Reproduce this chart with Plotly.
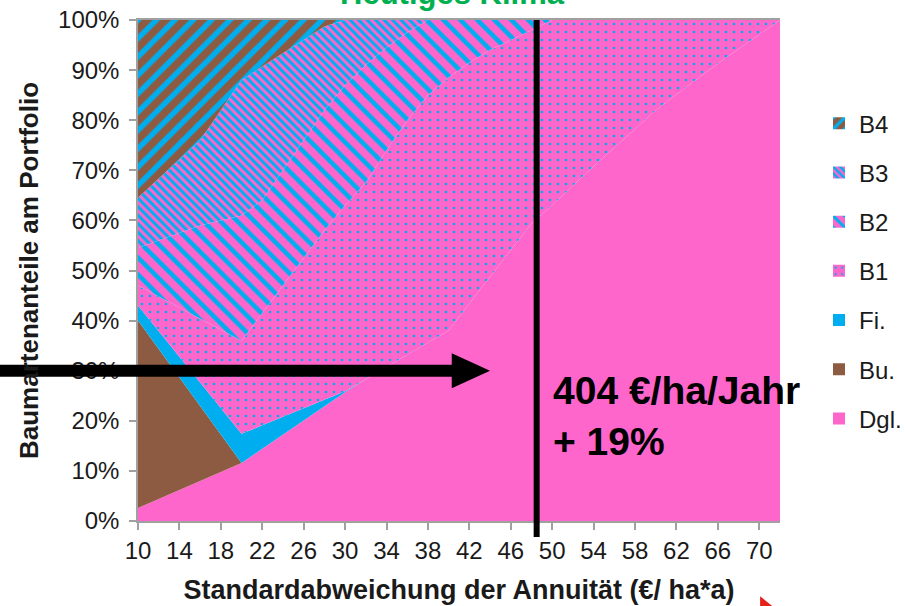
import plotly.graph_objects as go

# Standard deviation of the annuity (EUR / ha*a), one point every 2 units
std_dev = list(range(10, 73, 2))

# Share of each tree species type in the portfolio (%), bottom to top of the stack
dgl = [2.6, 4.4, 6.2, 8.0, 9.8, 11.6, 14.4, 17.2, 20.0, 22.9, 25.7, 28.3, 30.7, 33.2,
       35.6, 38.0, 43.4, 48.8, 54.2, 59.4, 63.0, 67.0, 70.8, 74.5, 78.2, 82.0, 85.2,
       88.3, 91.3, 94.2, 97.1, 100.0]
bu = [37.4, 29.9, 22.4, 15.0, 7.5, 0, 0, 0, 0, 0, 0, 0, 0, 0, 0, 0,
      0, 0, 0, 0, 0, 0, 0, 0, 0, 0, 0, 0, 0, 0, 0, 0]
fi = [3.0, 3.6, 4.2, 4.6, 5.2, 5.8, 4.7, 3.6, 2.5, 1.3, 0.2, 0, 0, 0, 0, 0,
      0, 0, 0, 0, 0, 0, 0, 0, 0, 0, 0, 0, 0, 0, 0, 0]
b1 = [4.0, 6.9, 9.8, 12.8, 15.7, 18.6, 22.4, 26.2, 30.0, 33.8, 37.1, 39.2, 43.3, 46.8,
      49.4, 50.5, 48.1, 45.2, 41.8, 38.6, 37.0, 33.0, 29.2, 25.5, 21.8, 18.0, 14.8,
      11.7, 8.7, 5.8, 2.9, 0]
b2 = [7.5, 11.2, 14.9, 18.6, 21.8, 25.0, 22.5, 23.0, 23.5, 24.0, 24.0, 23.5, 20.5, 17.5,
      15.0, 11.5, 8.5, 6.0, 4.0, 2.0, 0, 0, 0, 0, 0, 0, 0, 0, 0, 0, 0, 0]
b3 = [10.0, 12.3, 14.6, 17.0, 22.0, 27.0, 26.7, 23.4, 20.0, 16.7, 13.0, 9.0, 5.5, 2.5,
      0, 0, 0, 0, 0, 0, 0, 0, 0, 0, 0, 0, 0, 0, 0, 0, 0, 0]
b4 = [35.5, 31.7, 27.9, 24.0, 18.0, 12.0, 9.3, 6.6, 4.0, 1.3, 0, 0, 0, 0, 0, 0,
      0, 0, 0, 0, 0, 0, 0, 0, 0, 0, 0, 0, 0, 0, 0, 0]

x_ticks = list(range(10, 71, 4))
y_ticks = list(range(0, 101, 10))
y_tick_labels = [f"{v}%" for v in y_ticks]

# Highlighted portfolio: marker position on the x axis, arrow level on the y axis
marker_std = 48.5
arrow_share = 30
arrow_tip_std = 44
marker_label = "404 €/ha/Jahr<br>+ 19%"

PINK = "#FF66CC"
BROWN = "#8C5B41"
BLUE = "#00AEEF"
FONT = "Liberation Sans, Arial, sans-serif"
TEXT = "#1A1A1A"
AXIS = "#A0A0A0"

series = [
    ("Dgl.", dgl, dict(shape="", bgcolor=PINK, fgcolor=PINK), PINK),
    ("Bu.", bu, dict(shape="", bgcolor=BROWN, fgcolor=BROWN), BROWN),
    ("Fi.", fi, dict(shape="", bgcolor=BLUE, fgcolor=BLUE), BLUE),
    ("B1", b1, dict(shape=".", bgcolor=PINK, fgcolor=BLUE, size=8, solidity=0.09), PINK),
    ("B2", b2, dict(shape="\\", bgcolor=PINK, fgcolor=BLUE, size=12, solidity=0.38), PINK),
    ("B3", b3, dict(shape="\\", bgcolor=PINK, fgcolor=BLUE, size=6, solidity=0.5), PINK),
    ("B4", b4, dict(shape="/", bgcolor=BROWN, fgcolor=BLUE, size=13, solidity=0.42), BROWN),
]

fig = go.Figure()

# stacked areas
for name, vals, pat, base in series:
    fig.add_trace(go.Scatter(
        x=std_dev, y=vals, name=name, mode="lines", stackgroup="one",
        line=dict(width=0, color=base), fillcolor=base,
        fillpattern=dict(fillmode="replace", **pat),
        showlegend=False, hoverinfo="skip",
    ))

# legend swatches (square keys), listed top to bottom
for name, vals, pat, base in reversed(series):
    fig.add_trace(go.Bar(
        x=[None], y=[None], name=name, legendgroup=name,
        marker=dict(color=base, line=dict(width=0),
                    pattern=dict(fillmode="replace", **pat)),
    ))

PLOT_W = 642  # plot area width in px
shaft_end = (arrow_tip_std - 3.7 - 10) * (PLOT_W / 62) / PLOT_W

shapes = [
    # vertical marker line
    dict(type="line", xref="x", yref="paper", x0=marker_std, x1=marker_std,
         y0=-0.032, y1=1.0, line=dict(color="black", width=6), layer="above"),
    # horizontal arrow shaft
    dict(type="line", xref="paper", yref="y", x0=-0.22, x1=shaft_end + 0.005,
         y0=arrow_share, y1=arrow_share, line=dict(color="black", width=12), layer="above"),
    # arrow head
    dict(type="path", xref="x", yref="y",
         path=f"M {arrow_tip_std - 3.7},{arrow_share + 3.5} L {arrow_tip_std},{arrow_share} "
              f"L {arrow_tip_std - 3.7},{arrow_share - 3.5} Z",
         fillcolor="black", line=dict(width=0), layer="above"),
    # small red pointer at the bottom edge
    dict(type="path", xref="paper", yref="paper",
         path="M 0.969,-0.150 L 0.990,-0.172 L 0.969,-0.172 Z",
         fillcolor="#E8201A", line=dict(width=0)),
]

annotations = [
    dict(text="<b>Heutiges Klima</b>", xref="paper", yref="paper", x=0.49, y=1.052,
         xanchor="center", yanchor="middle", showarrow=False,
         font=dict(family=FONT, size=31, color="#00B050")),
    dict(text=f"<b>{marker_label}</b>", xref="paper", yref="y", x=(551 - 138) / PLOT_W,
         y=20.9, xanchor="left", yanchor="middle", align="left", showarrow=False,
         font=dict(family=FONT, size=39, color="black")),
]

fig.update_layout(
    width=905, height=606, autosize=False,
    margin=dict(l=138, r=125, t=20, b=85, autoexpand=False),
    paper_bgcolor="white", plot_bgcolor="white",
    font=dict(family=FONT, color=TEXT),
    shapes=shapes, annotations=annotations,
    showlegend=True,
    legend=dict(x=(819 - 138) / PLOT_W, xanchor="left", y=0.838, yanchor="top",
                font=dict(family=FONT, size=24, color=TEXT),
                bgcolor="rgba(0,0,0,0)", traceorder="grouped", tracegroupgap=15,
                itemclick=False),
    xaxis=dict(range=[10, 72], tickmode="array", tickvals=x_ticks, ticks="outside",
               ticklen=7, tickcolor=AXIS, tickwidth=1.5, showline=True, linecolor=AXIS,
               linewidth=1.5, mirror=True, showgrid=False, zeroline=False, automargin=False,
               tickfont=dict(family=FONT, size=24, color=TEXT),
               title=dict(text="<b>Standardabweichung der Annuität (€/ ha*a)</b>",
                          font=dict(family=FONT, size=27, color=TEXT), standoff=18)),
    yaxis=dict(range=[0, 100], tickmode="array", tickvals=y_ticks, ticktext=y_tick_labels,
               ticks="outside", ticklen=7, tickcolor=AXIS, tickwidth=1.5, showline=True,
               linecolor=AXIS, linewidth=1.5, showgrid=False, zeroline=False,
               automargin=False, ticklabelstandoff=5,
               tickfont=dict(family=FONT, size=24, color=TEXT),
               title=dict(text="<b>Baumartenanteile am Portfolio</b>",
                          font=dict(family=FONT, size=26, color=TEXT), standoff=12)),
)

fig.write_html("out.html")
